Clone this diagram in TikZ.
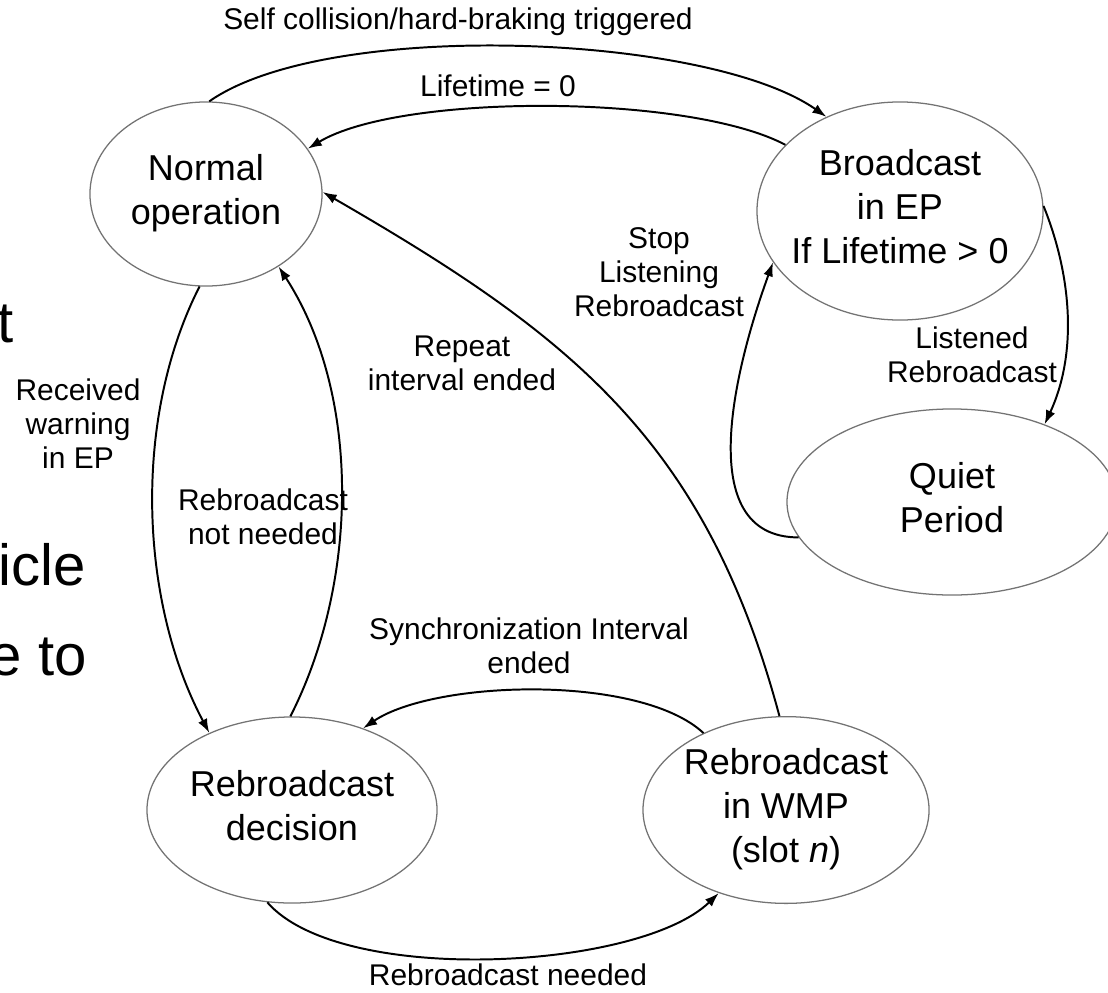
\documentclass[tikz,border=0pt]{standalone}
\usepackage{fontspec}
\setmainfont{Liberation Sans}
\usetikzlibrary{arrows.meta, shapes.geometric}

\newcommand{\statefont}{\fontsize{25.6pt}{31.3pt}\selectfont}
\newcommand{\edgefont}{\fontsize{21.3pt}{24.2pt}\selectfont}
\newcommand{\slidefont}{\fontsize{41.3pt}{49pt}\selectfont}
% state text is kept out of the ellipse size
\newcommand{\sttext}[1]{\makebox[0pt]{\begin{tabular}{@{}c@{}}#1\end{tabular}}}

\tikzset{
	state/.style={draw=black!55, line width=0.9pt, ellipse, inner sep=0pt, font=\statefont},
	trans/.style={inner sep=0pt, align=center, font=\edgefont},
	slide/.style={inner sep=0pt, anchor=base east, font=\slidefont},
}

\begin{document}
\begin{tikzpicture}[x=0.025cm, y=0.025cm]
	\useasboundingbox (0,0) rectangle (1108,-992);
	
	% cut slide text on the left
	\node (fragt) [slide] at (14,-342) {t};
	\node (fragicle) [slide] at (86,-585) {icle};
	\node (fragto) [slide] at (87,-675) {e to};
	
	\node (normal) [state, minimum width=5.8cm, minimum height=4.6cm] at (206,-194) {\sttext{Normal\\operation}};
	\node (bcast) [state, minimum width=7.15cm, minimum height=5.45cm] at (900,-211) {\sttext{Broadcast\\in EP\\If Lifetime > 0}};
	\node (quiet) [state, minimum width=8.25cm, minimum height=4.65cm] at (952,-502) {\sttext{Quiet\\Period}};
	\node (decision) [state, minimum width=7.25cm, minimum height=4.65cm] at (292,-810) {\sttext{Rebroadcast\\decision}};
	\node (wmp) [state, minimum width=7.15cm, minimum height=4.65cm] at (786,-810) {\sttext{Rebroadcast\\in WMP\\(slot \textit{n})}};
	
	\node (lself) [trans] at (458,-22) {Self collision/hard-braking triggered};
	\node (llife) [trans] at (498,-86) {Lifetime = 0};
	\node (lrepeat) [trans] at (462,-363) {Repeat\\interval ended};
	\node (lrecv) [trans] at (78,-424) {Received\\warning\\in EP};
	\node (lnot) [trans] at (263,-517) {Rebroadcast\\not needed};
	\node (lsync) [trans] at (529,-646) {Synchronization Interval\\ended};
	\node (lneed) [trans] at (508,-975) {Rebroadcast needed};
	\node (lstop) [trans] at (659,-272) {Stop\\Listening\\Rebroadcast};
	\node (llisten) [trans] at (972,-355) {Listened\\Rebroadcast};
	
	\begin{scope}[line width=1.4pt, black, ->, >={Latex[length=10pt,width=7pt]}]
		\draw (normal.88) to [out=35, in=145, looseness=0.6] (bcast.128);
		\draw (bcast.150) to [out=152, in=31, looseness=0.58] (normal.24);
		\draw (wmp.94) to [out=105, in=-30, looseness=1.05] (normal.1);
		\draw (normal.266) to [out=243, in=118, looseness=0.85] (decision.137);
		\draw (decision.91) to [out=63, in=-57, looseness=0.86] (normal.-45);
		\draw (wmp.137) to [out=137, in=34, looseness=0.65] (decision.49);
		\draw (decision.-105) to [out=-49, in=224, looseness=0.63] (wmp.231);
		\draw (quiet.193) to [out=180, in=250] (bcast.202);
		\draw (bcast.2) to [out=-68, in=65, looseness=0.9] (quiet.40);
	\end{scope}
	
\end{tikzpicture}
\end{document}
